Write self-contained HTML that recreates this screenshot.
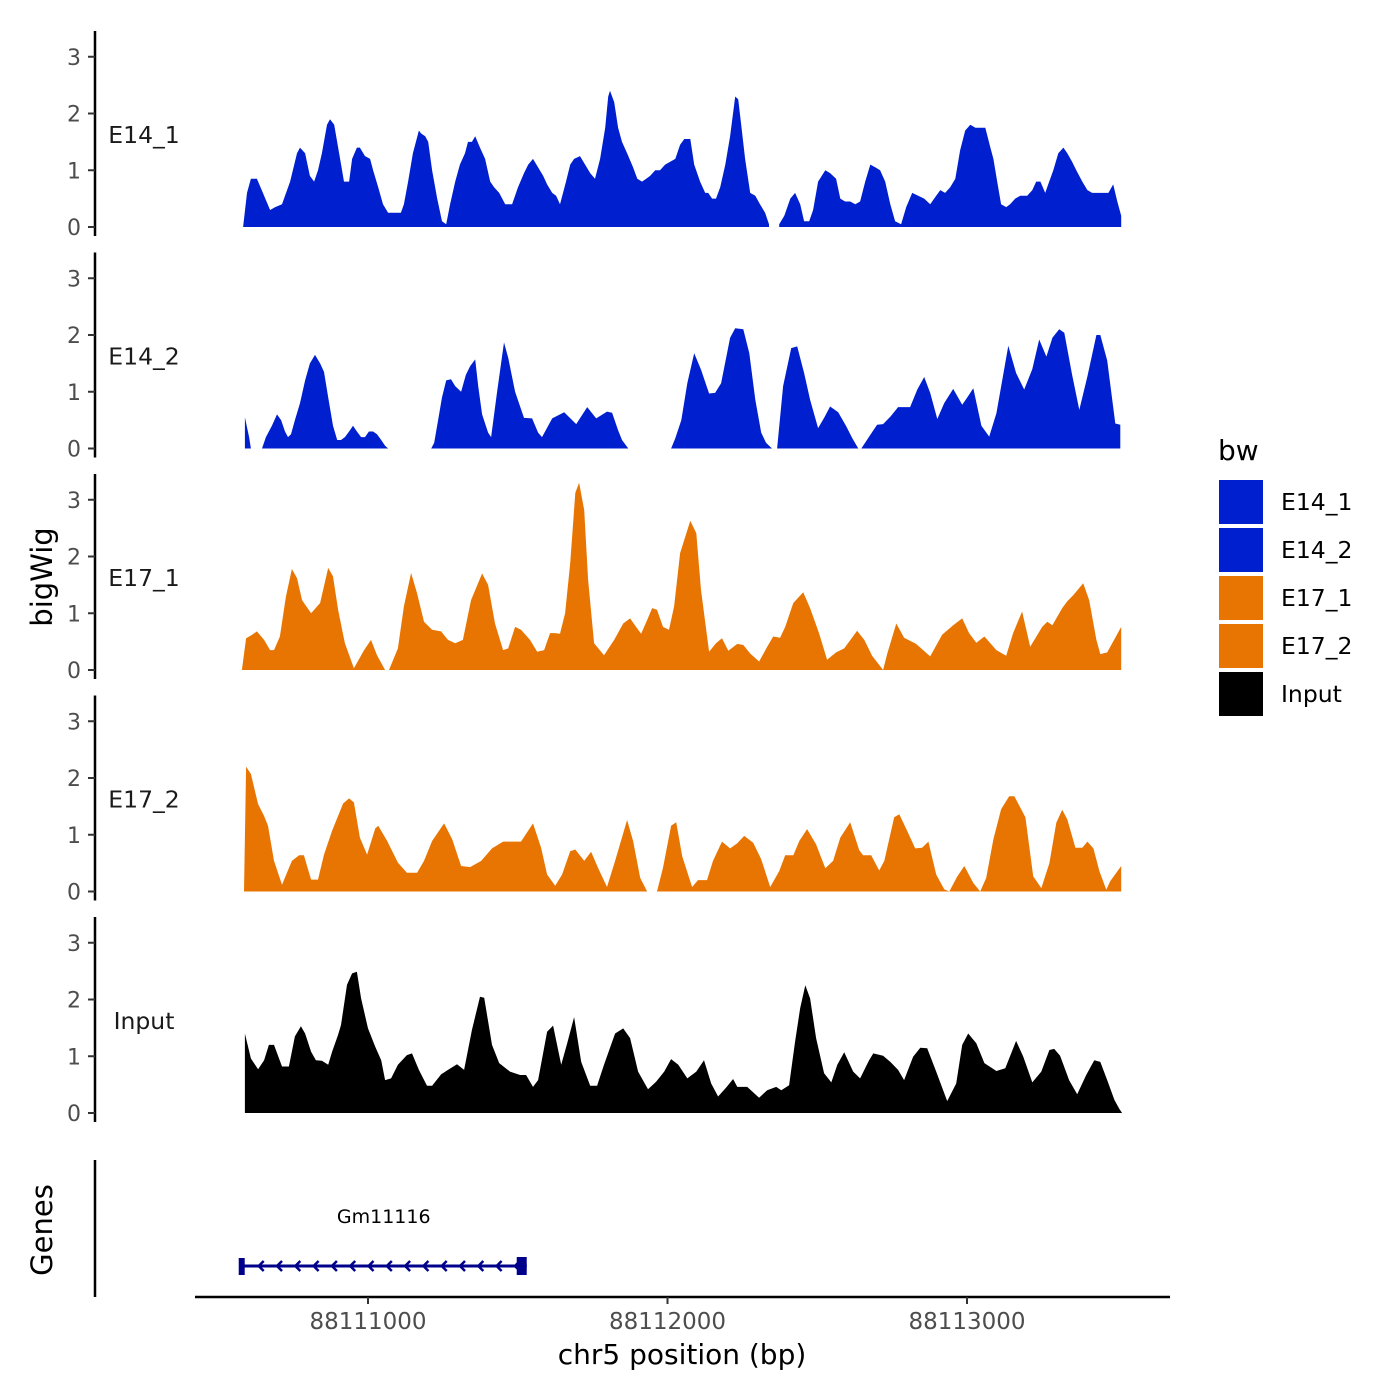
<!DOCTYPE html>
<html><head><meta charset="utf-8">
<style>
html,body{margin:0;padding:0;background:#fff;}
svg{display:block;font-family:"DejaVu Sans","Liberation Sans",sans-serif;}
</style></head>
<body>
<svg id="chart" width="1400" height="1400" viewBox="0 0 1400 1400" xmlns="http://www.w3.org/2000/svg">
<g id="tracks"></g>
<g id="axes"></g>
<g id="genes"></g>
<g id="legend"></g>
</svg>
<script>
// ---------- data (positions are bp offsets from 88110000; null = gap) ----------
const trackNames = ["E14_1","E14_2","E17_1","E17_2","Input"];
const trackColors = ["#0020CF","#0020CF","#E87502","#E87502","#000000"];
const yTicks = [0,1,2,3];
const xTicks = [88111000,88112000,88113000];
const xTickLabels = ["88111000","88112000","88113000"];

const e141Pos = [583,596,609,629,649,673,690,713,740,763,773,790,806,820,833,846,863,873,887,907,920,937,947,963,973,990,1007,1017,1034,1050,1067,1090,1110,1120,1134,1150,1170,1177,1191,1201,1214,1231,1247,1261,1274,1291,1307,1324,1334,1347,1358,1374,1391,1408,1421,1438,1458,1481,1501,1521,1535,1551,1568,1585,1598,1615,1628,1641,1661,1675,1688,1708,1725,1742,1758,1775,1792,1802,1808,1822,1835,1848,1865,1885,1899,1915,1929,1942,1959,1975,1992,2009,2026,2042,2056,2076,2089,2109,2126,2136,2149,2162,2176,2193,2209,2226,2236,2246,2259,2276,2293,2309,2326,2339,2356,2373,2390,2410,2426,2443,2456,2473,2486,2503,2527,2543,2563,2577,2593,2610,2627,2643,2660,2677,2694,2710,2727,2744,2760,2780,2797,2817,2837,2857,2877,2897,2911,2927,2944,2961,2977,2994,3011,3028,3051,3061,3078,3088,3101,3114,3131,3144,3161,3178,3201,3218,3231,3245,3261,3271,3288,3305,3322,3335,3351,3365,3385,3402,3418,3445,3472,3488,3502,3515];
const e141Val = [0,0.6,0.85,0.85,0.6,0.3,0.35,0.4,0.8,1.3,1.4,1.3,0.9,0.8,1.0,1.3,1.8,1.9,1.8,1.2,0.8,0.8,1.2,1.4,1.4,1.25,1.2,1.0,0.7,0.4,0.25,0.25,0.25,0.4,0.8,1.3,1.7,1.65,1.6,1.5,1.0,0.5,0.1,0.05,0.4,0.8,1.1,1.3,1.5,1.5,1.6,1.4,1.2,0.8,0.7,0.6,0.4,0.4,0.7,0.95,1.1,1.2,1.05,0.9,0.75,0.6,0.55,0.4,0.8,1.1,1.2,1.25,1.1,0.95,0.85,1.2,1.75,2.3,2.4,2.2,1.75,1.5,1.3,1.05,0.85,0.8,0.85,0.9,1.0,1.0,1.1,1.15,1.2,1.45,1.55,1.55,1.1,0.8,0.6,0.6,0.5,0.5,0.7,1.1,1.6,2.3,2.25,1.8,1.2,0.6,0.55,0.4,0.25,0.05,null,0.05,0.2,0.5,0.6,0.4,0.1,0.1,0.3,0.8,1.0,0.95,0.85,0.5,0.45,0.45,0.4,0.45,0.8,1.1,1.05,1.0,0.8,0.4,0.1,0.05,0.35,0.6,0.55,0.5,0.4,0.55,0.65,0.6,0.7,0.85,1.35,1.7,1.8,1.75,1.75,1.75,1.4,1.2,0.8,0.4,0.35,0.4,0.5,0.55,0.55,0.65,0.8,0.8,0.6,0.75,1.0,1.3,1.4,1.3,1.15,1.0,0.8,0.65,0.6,0.6,0.6,0.75,0.45,0.2];

const e142Pos = [589,603,609,630,646,659,679,696,710,723,733,743,756,773,790,806,823,840,853,867,883,897,910,923,937,950,963,977,990,1003,1017,1030,1044,1057,1067,1140,1211,1221,1234,1247,1261,1277,1291,1311,1327,1341,1358,1368,1381,1401,1411,1431,1454,1468,1491,1521,1548,1568,1581,1615,1655,1695,1732,1762,1798,1815,1835,1848,1869,1940,2012,2026,2046,2066,2089,2112,2139,2159,2179,2209,2226,2253,2273,2293,2313,2329,2349,2358,2366,2386,2413,2433,2456,2476,2503,2523,2543,2570,2597,2617,2637,2642,2647,2677,2700,2720,2744,2770,2810,2834,2857,2877,2901,2924,2954,2984,3001,3021,3048,3074,3098,3138,3164,3191,3218,3241,3265,3285,3308,3325,3351,3375,3402,3432,3445,3468,3495,3512];
const e142Val = [0.55,0.2,0,null,0,0.2,0.4,0.6,0.5,0.3,0.2,0.25,0.5,0.8,1.2,1.5,1.65,1.5,1.35,0.9,0.4,0.15,0.15,0.2,0.3,0.4,0.3,0.2,0.2,0.3,0.3,0.25,0.15,0.05,0,null,0,0.1,0.5,0.9,1.2,1.22,1.1,1.0,1.3,1.45,1.57,1.1,0.6,0.28,0.2,1.0,1.87,1.6,1.0,0.54,0.53,0.28,0.2,0.53,0.64,0.43,0.73,0.53,0.65,0.63,0.32,0.15,0,null,0,0.18,0.5,1.15,1.68,1.39,0.97,0.98,1.15,1.95,2.12,2.1,1.68,0.86,0.28,0.1,0,null,0,1.1,1.77,1.8,1.33,0.86,0.36,0.54,0.74,0.64,0.39,0.18,0,null,0,0.24,0.42,0.43,0.56,0.73,0.73,1.04,1.26,0.98,0.52,0.8,1.05,0.77,0.9,1.06,0.4,0.21,0.62,1.81,1.33,1.04,1.4,1.92,1.62,1.95,2.1,2.04,1.3,0.68,1.27,2.0,2.0,1.55,0.44,0.42];

const e171Pos = [579,593,613,629,653,673,686,706,726,746,763,780,810,840,867,883,900,923,953,987,1010,1030,1057,1063,1070,1100,1120,1144,1164,1187,1214,1244,1267,1291,1317,1344,1381,1401,1424,1451,1468,1491,1511,1541,1565,1588,1608,1625,1641,1658,1675,1692,1705,1722,1735,1755,1788,1822,1852,1875,1895,1912,1932,1949,1965,1985,2005,2022,2042,2076,2096,2112,2139,2162,2182,2203,2233,2253,2276,2306,2333,2353,2376,2393,2420,2453,2476,2506,2533,2563,2590,2633,2657,2683,2720,2734,2764,2790,2830,2877,2917,2954,2984,3007,3031,3058,3098,3131,3154,3184,3211,3251,3268,3285,3318,3335,3355,3388,3408,3432,3445,3468,3515];
const e171Val = [0,0.56,0.62,0.68,0.53,0.35,0.35,0.59,1.29,1.78,1.62,1.23,1.0,1.18,1.8,1.65,1.06,0.47,0.03,0.35,0.53,0.26,0,null,0,0.38,1.12,1.71,1.35,0.85,0.71,0.68,0.53,0.47,0.53,1.23,1.7,1.5,0.82,0.35,0.38,0.76,0.71,0.53,0.32,0.35,0.65,0.65,0.64,1.0,1.88,3.12,3.3,2.82,1.59,0.47,0.26,0.53,0.82,0.91,0.76,0.64,0.88,1.09,1.06,0.76,0.71,1.12,2.06,2.63,2.41,1.41,0.32,0.47,0.56,0.34,0.46,0.44,0.29,0.15,0.41,0.59,0.57,0.76,1.18,1.37,1.09,0.65,0.18,0.31,0.38,0.69,0.53,0.25,0,0.29,0.82,0.57,0.46,0.24,0.62,0.79,0.91,0.65,0.48,0.59,0.35,0.25,0.65,1.03,0.41,0.76,0.85,0.79,1.09,1.21,1.32,1.53,1.23,0.53,0.28,0.31,0.76];

const e172Pos = [586,593,609,633,653,666,686,713,746,770,786,810,833,853,880,917,937,953,973,997,1024,1034,1064,1100,1130,1164,1187,1214,1254,1281,1311,1341,1378,1414,1451,1511,1551,1578,1598,1625,1648,1675,1692,1722,1745,1768,1798,1825,1865,1885,1909,1932,1948,1965,1985,2012,2029,2049,2082,2102,2132,2152,2182,2209,2233,2256,2286,2313,2343,2373,2393,2420,2440,2466,2496,2527,2553,2577,2610,2640,2653,2680,2707,2724,2757,2774,2800,2827,2850,2871,2897,2924,2941,2967,2991,3021,3044,3064,3088,3114,3141,3158,3195,3221,3248,3275,3298,3318,3335,3362,3385,3402,3422,3442,3465,3478,3515];
const e172Val = [0,2.2,2.07,1.54,1.33,1.16,0.54,0.12,0.54,0.64,0.64,0.21,0.21,0.65,1.07,1.55,1.64,1.57,0.95,0.65,1.11,1.16,0.89,0.51,0.33,0.33,0.54,0.89,1.2,0.92,0.45,0.43,0.54,0.76,0.88,0.88,1.2,0.77,0.3,0.1,0.3,0.71,0.74,0.54,0.7,0.42,0.08,0.54,1.26,0.89,0.24,0,null,0,0.42,1.16,1.22,0.62,0.08,0.2,0.2,0.54,0.88,0.76,0.85,0.98,0.86,0.57,0.08,0.36,0.64,0.64,0.89,1.1,0.83,0.41,0.54,0.95,1.22,0.73,0.64,0.64,0.37,0.54,1.31,1.36,1.07,0.76,0.77,0.88,0.3,0.04,0,0.26,0.45,0.15,0,0.24,0.92,1.45,1.68,1.68,1.31,0.27,0.06,0.5,1.21,1.44,1.27,0.77,0.77,0.88,0.76,0.36,0.03,0.18,0.45];

const inputPos = [589,609,633,653,669,686,713,736,756,776,790,810,826,846,867,880,900,910,930,947,963,977,1000,1024,1044,1057,1077,1100,1130,1147,1170,1197,1214,1244,1267,1297,1321,1347,1374,1388,1414,1438,1474,1508,1528,1551,1568,1598,1618,1645,1665,1688,1712,1742,1765,1788,1825,1852,1875,1902,1935,1962,1989,2012,2036,2066,2096,2122,2146,2169,2196,2219,2233,2266,2306,2333,2363,2380,2406,2426,2443,2460,2476,2496,2523,2547,2567,2590,2620,2643,2673,2687,2720,2744,2770,2790,2820,2844,2867,2897,2934,2964,2984,3004,3031,3058,3098,3128,3164,3188,3218,3248,3275,3291,3311,3341,3368,3398,3425,3445,3468,3492,3508,3518];
const inputVal = [1.4,0.96,0.77,0.93,1.2,1.2,0.82,0.82,1.35,1.53,1.4,1.08,0.93,0.92,0.85,1.08,1.38,1.55,2.26,2.46,2.49,2.02,1.49,1.17,0.93,0.58,0.61,0.85,1.02,1.05,0.76,0.48,0.48,0.68,0.76,0.86,0.76,1.46,2.05,2.03,1.2,0.88,0.73,0.67,0.67,0.46,0.58,1.43,1.54,0.85,1.23,1.69,0.9,0.48,0.48,0.85,1.4,1.49,1.32,0.73,0.42,0.55,0.73,0.95,0.85,0.61,0.73,0.93,0.52,0.29,0.45,0.6,0.46,0.46,0.27,0.4,0.46,0.4,0.49,1.26,1.85,2.25,2.02,1.32,0.7,0.54,0.85,1.07,0.73,0.61,0.93,1.05,1.01,0.9,0.76,0.58,0.99,1.15,1.14,0.73,0.21,0.52,1.2,1.4,1.23,0.88,0.74,0.79,1.27,0.99,0.54,0.73,1.11,1.13,1.01,0.58,0.33,0.67,0.93,0.9,0.58,0.23,0.08,0];

const genePos = [575, 1530];
const geneName = "Gm11116";

const trackPos = [e141Pos,e142Pos,e171Pos,e172Pos,inputPos];
const trackVal = [e141Val,e142Val,e171Val,e172Val,inputVal];

// ---------- scales ----------
const NS = "http://www.w3.org/2000/svg";
const BASE = 88110000;
function xScale(bp){ return 368 + (bp - 88111000) * 0.2995; }
const PANEL_STEP = 221.5, ZERO0 = 227, UNIT = 56.75;
function yScale(v, k){ return ZERO0 + k*PANEL_STEP - v*UNIT; }
function mk(tag, attrs, parent){
  const el = document.createElementNS(NS, tag);
  for (const a in attrs) el.setAttribute(a, attrs[a]);
  parent.appendChild(el);
  return el;
}

const gTracks = document.getElementById('tracks');
const gAxes = document.getElementById('axes');

for (let k = 0; k < trackNames.length; k++){
  const pos = trackPos[k], val = trackVal[k];
  const base = yScale(0, k);
  let segs = [], cur = [];
  const n = Math.min(pos.length, val.length);
  for (let i = 0; i < n; i++){
    if (val[i] === null){ if (cur.length) segs.push(cur); cur = []; }
    else cur.push([xScale(BASE + pos[i]), yScale(val[i], k)]);
  }
  if (cur.length) segs.push(cur);
  segs.forEach((s) => {
    let d = "M" + s[0][0].toFixed(1) + "," + base;
    s.forEach(p => { d += "L" + p[0].toFixed(1) + "," + p[1].toFixed(1); });
    d += "L" + s[s.length-1][0].toFixed(1) + "," + base + "Z";
    const p = mk('path', {d: d, fill: trackColors[k]}, gTracks);
    
    
  });

  const ax = mk('line', {x1:95, x2:95, y1:31 + k*PANEL_STEP, y2:236 + k*PANEL_STEP, stroke:'#000', 'stroke-width':2.5}, gAxes);
  
  
  yTicks.forEach(t => {
    const y = yScale(t, k);
    const tl = mk('line', {x1:88, x2:95, y1:y, y2:y, stroke:'#333', 'stroke-width':2}, gAxes);
    
    
    const tx = mk('text', {x:81, y:y+8, 'text-anchor':'end', 'font-size':22, fill:'#4d4d4d'}, gAxes);
    tx.textContent = String(t);
    
    
  });
  const lb = mk('text', {x:144, y:143 + k*PANEL_STEP, 'text-anchor':'middle', 'font-size':23.5, fill:'#1a1a1a'}, gAxes);
  lb.textContent = trackNames[k];
  
  
}

const yt = mk('text', {x:0, y:0, transform:'translate(52,577) rotate(-90)', 'text-anchor':'middle', 'font-size':29, fill:'#000'}, gAxes);
yt.textContent = 'bigWig';


const gt = mk('text', {x:0, y:0, transform:'translate(52,1230) rotate(-90)', 'text-anchor':'middle', 'font-size':29, fill:'#000'}, gAxes);
gt.textContent = 'Genes';



const gGenes = document.getElementById('genes');
const gax = mk('line', {x1:95, x2:95, y1:1160, y2:1297, stroke:'#000', 'stroke-width':2.5}, gGenes);


const xax = mk('line', {x1:195, x2:1170, y1:1297, y2:1297, stroke:'#000', 'stroke-width':2.5}, gGenes);


xTicks.forEach((t, i) => {
  const x = xScale(t);
  const tk = mk('line', {x1:x, x2:x, y1:1297, y2:1304, stroke:'#333', 'stroke-width':2}, gGenes);
  
  
  const tl = mk('text', {x:x, y:1329, 'text-anchor':'middle', 'font-size':23, fill:'#4d4d4d'}, gGenes);
  tl.textContent = xTickLabels[i];
  
  
});
const xt = mk('text', {x:682, y:1364, 'text-anchor':'middle', 'font-size':28, fill:'#000'}, gGenes);
xt.textContent = 'chr5 position (bp)';



const gx1 = xScale(BASE + genePos[0]), gx2 = xScale(BASE + genePos[1]);
const gl = mk('line', {x1:gx1, x2:gx2, y1:1266, y2:1266, stroke:'#00008B', 'stroke-width':3}, gGenes);


const b1 = mk('rect', {x:gx1-2, y:1258, width:6, height:17, fill:'#00008B'}, gGenes);


const b2 = mk('rect', {x:gx2-10, y:1257, width:10, height:18, fill:'#00008B'}, gGenes);


for (let ax2 = gx1 + 18; ax2 < gx2 - 6; ax2 += 18.3){
  const ar = mk('path', {d:'M'+(ax2+5)+',1261 L'+ax2+',1266 L'+(ax2+5)+',1271', fill:'none', stroke:'#00008B', 'stroke-width':2.5}, gGenes);
  
  
}
const gn = mk('text', {x:(gx1+gx2)/2, y:1223, 'text-anchor':'middle', 'font-size':19, fill:'#000'}, gGenes);
gn.textContent = geneName;



const gLeg = document.getElementById('legend');
const lt = mk('text', {x:1218, y:460, 'font-size':28, fill:'#000'}, gLeg);
lt.textContent = 'bw';


trackNames.forEach((n, i) => {
  const r = mk('rect', {x:1219, y:480 + i*48, width:44, height:44, fill:trackColors[i]}, gLeg);
  
  
  const t = mk('text', {x:1281, y:510 + i*48, 'font-size':23.5, fill:'#000'}, gLeg);
  t.textContent = n;
  
  
});
</script>
</body></html>
